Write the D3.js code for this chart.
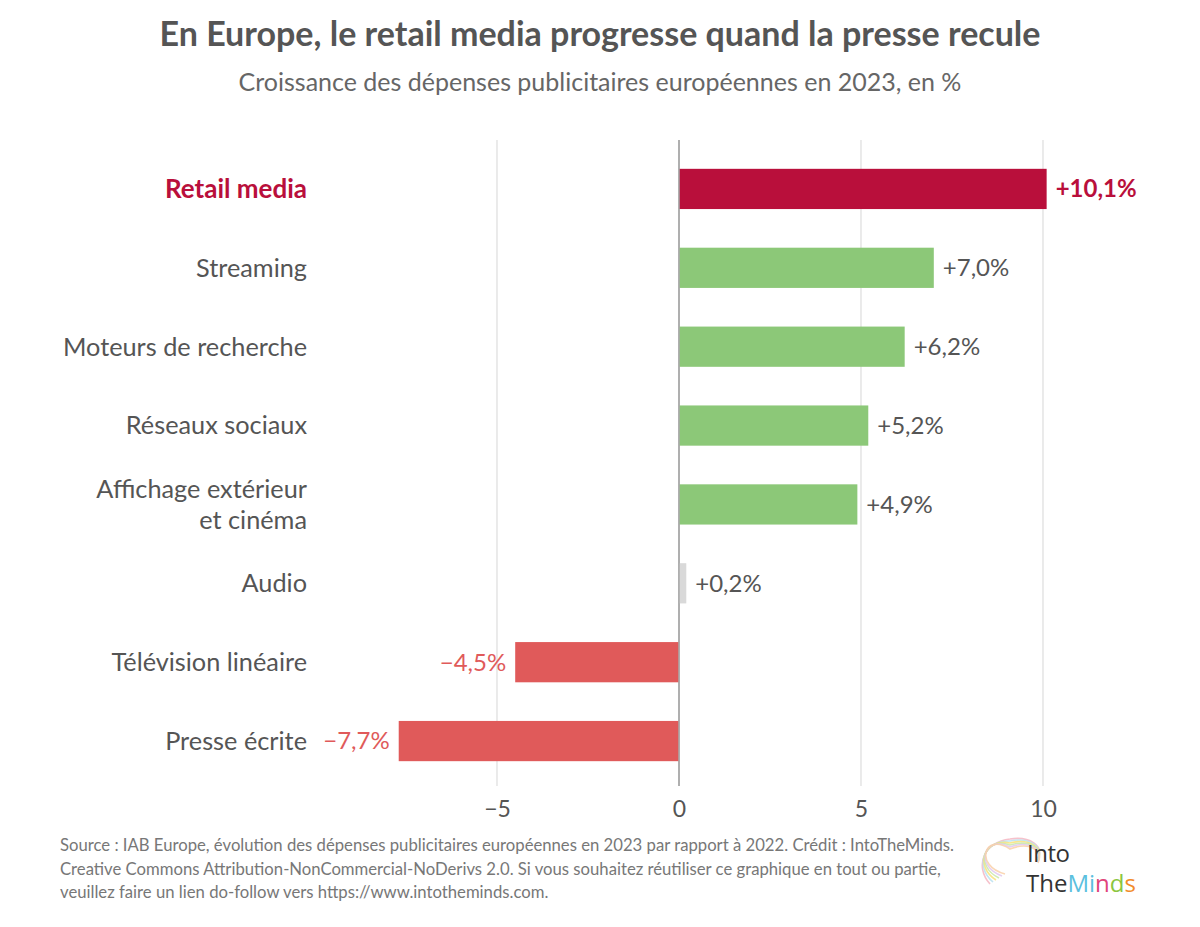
<!DOCTYPE html>
<html><head><meta charset="utf-8">
<script src="https://cdn.jsdelivr.net/npm/d3@7"></script>
<style>body{margin:0;background:#fff;} svg{display:block;font-family:Lato,"Open Sans",sans-serif;}</style>
</head><body>
<svg id="c" width="1200" height="927"></svg>
<script>
const categories = ["Retail media","Streaming","Moteurs de recherche","Réseaux sociaux","Affichage extérieur\net cinéma","Audio","Télévision linéaire","Presse écrite"];
const values = [10.1, 7.0, 6.2, 5.2, 4.9, 0.2, -4.5, -7.7];
const valueLabels = ["+10,1%","+7,0%","+6,2%","+5,2%","+4,9%","+0,2%","\u22124,5%","\u22127,7%"];
const ticks = [-5, 0, 5, 10];
const tickLabels = ["\u22125","0","5","10"];

const colRetail = "#b90f3b", colGreen = "#8cc878", colRed = "#e05a5a", colGray = "#d9d9d9", colText = "#555";

const svg = d3.select("#c");
const x = d3.scaleLinear().domain([-5, 10]).range([497, 1043]);
const y = d3.scaleBand().domain(categories).range([149.5, 780.5]).paddingInner(0.49).paddingOuter(0.245);

function colorFor(i){ if(i===0) return colRetail; const v=values[i]; if(v<0) return colRed; if(v<1) return colGray; return colGreen; }

// title
svg.append("text").attr("x",600).attr("y",46).attr("text-anchor","middle")
  .attr("font-size",34).attr("font-weight",700).attr("fill","#555")
  .text("En Europe, le retail media progresse quand la presse recule");
svg.append("text").attr("x",600).attr("y",91).attr("text-anchor","middle")
  .attr("font-size",25).attr("fill","#666")
  .text("Croissance des dépenses publicitaires européennes en 2023, en %");

// grid
svg.append("g").selectAll("line").data(ticks).join("line")
  .attr("x1",d=>x(d)).attr("x2",d=>x(d)).attr("y1",140).attr("y2",786)
  .attr("stroke",d=>d===0?"#aaa":"#ddd").attr("stroke-width",d=>d===0?1.5:1.2);

// bars
const bars = svg.append("g");
bars.selectAll("rect").data(values).join("rect")
  .attr("x",d=>x(Math.min(0,d))).attr("width",d=>Math.abs(x(d)-x(0)))
  .attr("y",(d,i)=>y(categories[i])).attr("height",y.bandwidth())
  .attr("fill",(d,i)=>colorFor(i));
svg.append("line").attr("x1",x(0)).attr("x2",x(0)).attr("y1",140).attr("y2",786).attr("stroke","#aaa").attr("stroke-width",1.5);

// value labels
svg.append("g").selectAll("text").data(values).join("text")
  .attr("x",d=>d>=0? x(d)+9 : x(d)-9)
  .attr("y",(d,i)=>y(categories[i])+y.bandwidth()/2)
  .attr("dy","0.35em")
  .attr("text-anchor",d=>d>=0?"start":"end")
  .attr("font-size",24)
  .attr("font-weight",(d,i)=>i===0?700:400)
  .attr("fill",(d,i)=>i===0?colRetail:(d<0?colRed:colText))
  .text((d,i)=>valueLabels[i]);

// category labels
const cat = svg.append("g").selectAll("text").data(categories).join("text")
  .attr("x",307).attr("text-anchor","end")
  .attr("font-size",(d,i)=>i===0?26:25.3)
  .attr("font-weight",(d,i)=>i===0?700:400)
  .attr("fill",(d,i)=>i===0?colRetail:colText);
cat.each(function(d){
  const lines = d.split("\n");
  const cy = y(d)+y.bandwidth()/2;
  const lh = 30.5;
  const t = d3.select(this);
  lines.forEach((l,k)=>{
    t.append("tspan").attr("x",307).attr("y",cy + (k-(lines.length-1)/2)*lh).attr("dy","0.35em").text(l);
  });
});

// x axis
const axis = d3.axisBottom(x).tickValues(ticks).tickSize(0).tickFormat((d,i)=>tickLabels[i]);
const ag = svg.append("g").attr("transform","translate(0,798)").call(axis);
ag.select(".domain").remove();
ag.selectAll("text").attr("font-size",23).attr("fill",colText).attr("font-family","Lato,sans-serif");

// footer
const foot = ["Source : IAB Europe, évolution des dépenses publicitaires européennes en 2023 par rapport à 2022. Crédit : IntoTheMinds.",
"Creative Commons Attribution-NonCommercial-NoDerivs 2.0. Si vous souhaitez réutiliser ce graphique en tout ou partie,",
"veuillez faire un lien do-follow vers https://www.intotheminds.com."];
svg.append("g").selectAll("text").data(foot).join("text")
  .attr("x",60).attr("y",(d,i)=>851+i*23.5).attr("font-size",16.7).attr("fill","#777").text(d=>d);

// logo
const lg = svg.append("g");
const brainCols = ["#f4b6c2","#b8e0f0","#f7e27a","#c9e7a7","#e0c8ef","#f9d0a8"];
brainCols.forEach((c,i)=>{
  lg.append("path").attr("d",`M${990+i*3},${884-i*2} C${974},${866} ${984},${842-i*2} ${1010},${839+i*2} C${1030},${836+i} ${1044},${846+i} ${1038},${858+i}`)
   .attr("fill","none").attr("stroke",c).attr("stroke-width",1.6).attr("opacity",0.85);
});
lg.append("text").attr("x",1027).attr("y",862).attr("font-size",24).attr("font-family","'Open Sans',sans-serif").attr("fill","#333").attr("letter-spacing",-0.5).text("Into");
const t2 = lg.append("text").attr("x",1026).attr("y",892).attr("font-size",24).attr("font-family","'Open Sans',sans-serif").attr("letter-spacing",0);
[["The","#333"],["M","#5bc0de"],["i","#5bc0de"],["n","#e0457b"],["d","#8cc63f"],["s","#f28c28"]].forEach(([s,c])=>t2.append("tspan").attr("fill",c).text(s));
</script>
</body></html>
